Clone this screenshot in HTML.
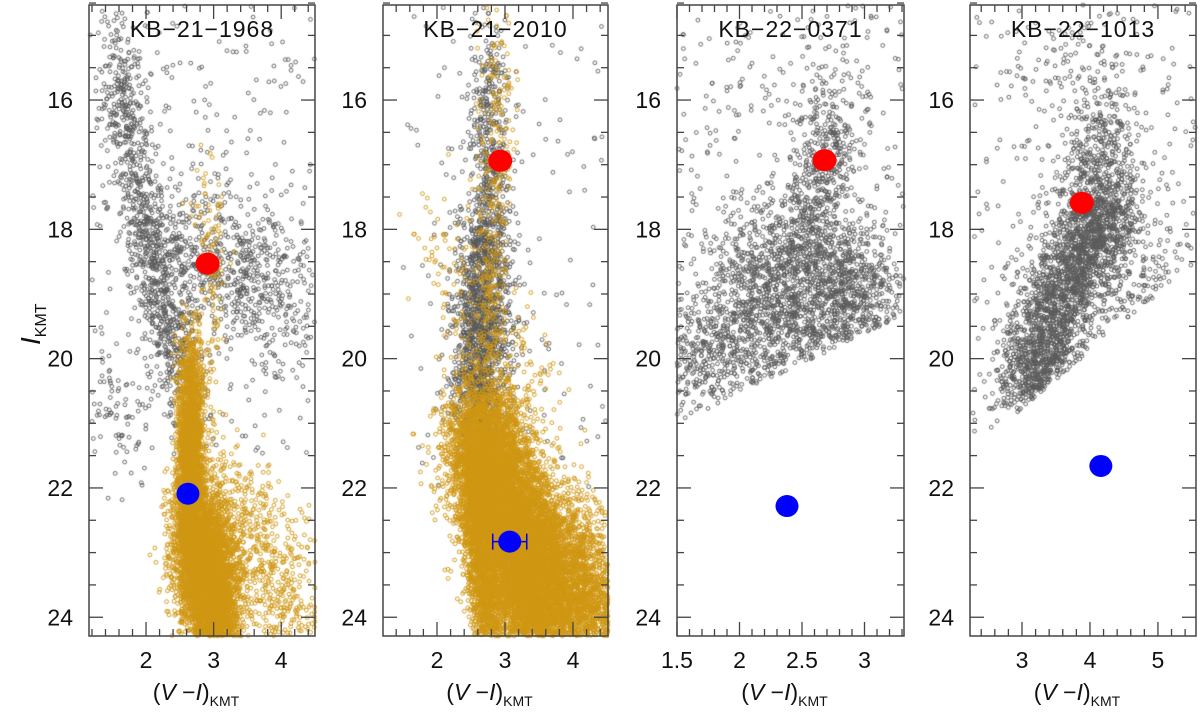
<!DOCTYPE html>
<html><head><meta charset="utf-8"><style>
html,body{margin:0;padding:0;background:#fff;width:1200px;height:715px;overflow:hidden}
#wrap{position:relative;width:1200px;height:715px}
canvas,svg{position:absolute;left:0;top:0}
text{font-family:"Liberation Sans",sans-serif;fill:#111}
</style></head><body>
<div id="wrap">
<canvas id="cv" width="1200" height="715"></canvas>
<svg id="sv" width="1200" height="715"></svg>
</div>
<script>
// ---- data ----
const panelNames = ["KB-21-1968","KB-21-2010","KB-22-0371","KB-22-1013"];
const xMin = [1.156, 1.206, 1.5, 2.235];
const xMax = [4.5, 4.515, 3.316, 5.56];
const xTickMajor = [[2,3,4],[2,3,4],[1.5,2,2.5,3],[3,4,5]];
const xTickLabels = [["2","3","4"],["2","3","4"],["1.5","2","2.5","3"],["3","4","5"]];
const xMinorStep = [0.2,0.2,0.1,0.2];
const yTickMajor = [16,18,20,22,24];
const yTickLabels = ["16","18","20","22","24"];
const yTop = 14.53, yBottom = 24.29;
const sourceColor = [2.91, 2.93, 2.68, 3.88];
const sourceMag = [18.53, 16.94, 16.93, 17.59];
const baseColor = [2.62, 3.07, 2.38, 4.16];
const baseMag = [22.09, 22.83, 22.28, 21.66];
const baseColorErr = [0.03, 0.25, 0.03, 0.03];
// star-cloud components: panel, kind(0 gray,1 orange), x0,y0,x1,y1, sx, sy, n, uniform
const cloudPanel = [0,0,0,0,0, 0,0,0,0,0, 1,1,1, 1,1,1,1,1, 2,2,2,2,2, 3,3,3,3,3];
const cloudKind  = [0,0,0,0,0, 1,1,1,1,1, 0,0,0, 1,1,1,1,1, 0,0,0,0,0, 0,0,0,0,0];
const cloudX0 = [1.55,1.9,2.3,1.2,1.3, 2.9,2.65,2.7,3.2,2.55, 2.75,2.7,1.5, 2.9,2.0,2.6,3.5,2.5, 2.75,2.4,2.7,1.8,1.5, 4.2,4.2,3.5,2.3,4.3];
const cloudY0 = [15.3,17.5,18.3,14.5,20.5, 17.2,20.6,22.5,22.0,19.8, 15.3,18.0,14.5, 15.3,18.0,21.0,22.5,21.5, 16.2,18.0,18.8,19.5,14.5, 16.3,17.5,15.0,14.5,18.5];
const cloudX1 = [1.9,2.5,4.3,4.5,2.0, 3.0,2.65,3.1,4.3,2.9, 2.8,2.6,4.5, 2.75,3.5,3.6,4.5,2.8, 2.6,2.3,3.1,1.6,3.32, 4.2,3.0,4.8,5.5,5.2];
const cloudY1 = [17.5,20.3,19.0,21.5,21.5, 19.8,22.5,24.3,24.3,21.0, 18.0,21.0,22.0, 20.5,21.0,24.3,24.3,24.3, 18.0,20.0,19.3,20.5,21.0, 18.0,20.6,17.0,21.0,19.0];
const cloudSX = [0.15,0.2,0.3,0,0.15, 0.12,0.09,0.2,0.35,0.12, 0.15,0.2,0, 0.15,0.35,0.3,0.35,0.12, 0.15,0.35,0.2,0.2,0, 0.25,0.3,0.5,0,0.4];
const cloudSY = [0.5,0.4,0.6,0,0.4, 0.6,0.6,0.5,0.5,0.4, 0.6,0.5,0, 0.8,0.6,0.5,0.5,0.5, 0.5,0.5,0.5,0.4,0, 0.5,0.4,0.7,0,0.5];
const cloudN = [350,600,700,350,60, 100,2500,5000,700,150, 400,1600,150, 350,200,9000,3000,2000, 450,1500,600,300,400, 350,2400,200,250,250];
const cloudUniform = [0,0,0,1,0, 0,0,0,0,0, 0,0,1, 0,0,0,0,0, 0,0,0,0,1, 0,0,0,1,0];
const cutA = [99, 99, 22.4, 23.44];
const cutB = [0, 0, -0.93, -0.89];

// ---- layout ----
const pxL = [89,383,677,970], pxR = [315,608,904,1196];
const pyT = 5, pyB = 636;
function X(p,v){return pxL[p]+(v-xMin[p])/(xMax[p]-xMin[p])*(pxR[p]-pxL[p]);}
function Y(m){return pyT+(m-yTop)/(yBottom-yTop)*(pyB-pyT);}

// ---- cloud ----
let s=12345;
function rnd(){s|=0;s=s+0x6D2B79F5|0;let t=Math.imul(s^s>>>15,1|s);t=t+Math.imul(t^t>>>7,61|t)^t;return((t^t>>>14)>>>0)/4294967296;}
function gau(){let u=rnd()||1e-9,v=rnd();return Math.sqrt(-2*Math.log(u))*Math.cos(2*Math.PI*v);}
const ctx=document.getElementById('cv').getContext('2d');
ctx.lineWidth=0.9;
for(const kind of [0,1]){
  ctx.strokeStyle = kind? '#cf9612' : '#5a5a5a';
  for(let c=0;c<cloudN.length;c++){
    if(cloudKind[c]!==kind) continue;
    const p=cloudPanel[c];
    for(let i=0;i<cloudN[c];i++){
      let x,y;
      if(cloudUniform[c]){x=cloudX0[c]+rnd()*(cloudX1[c]-cloudX0[c]);y=cloudY0[c]+rnd()*(cloudY1[c]-cloudY0[c]);}
      else{const t=rnd();x=cloudX0[c]+t*(cloudX1[c]-cloudX0[c])+gau()*cloudSX[c];y=cloudY0[c]+t*(cloudY1[c]-cloudY0[c])+gau()*cloudSY[c];}
      if(x<xMin[p]||x>xMax[p]||y<yTop||y>yBottom) continue;
      if(y>cutA[p]+cutB[p]*x) continue;
      ctx.beginPath();ctx.arc(X(p,x),Y(y),1.9,0,Math.PI*2);ctx.stroke();
    }
  }
}

// ---- svg ----
const NS='http://www.w3.org/2000/svg', sv=document.getElementById('sv');
function mk(tag,at,parent){const e=document.createElementNS(NS,tag);for(const k in at)e.setAttribute(k,at[k]);(parent||sv).appendChild(e);return e;}
for(let p=0;p<4;p++){
  const g=mk('g',{});
  
  
  const fr=mk('rect',{x:pxL[p],y:pyT,width:pxR[p]-pxL[p],height:pyB-pyT,fill:'none',stroke:'#444','stroke-width':1.5},g);
  
  
  for(let m=14.5;m<=24.26;m+=0.5){
    const yy=Y(m), maj=Math.abs(m-Math.round(m))<1e-6&&Math.round(m)%2===0, L=maj?14:7;
    mk('line',{x1:pxL[p],x2:pxL[p]+L,y1:yy,y2:yy,stroke:'#444','stroke-width':1.3},g);
    mk('line',{x1:pxR[p],x2:pxR[p]-L,y1:yy,y2:yy,stroke:'#444','stroke-width':1.3},g);
  }
  yTickMajor.forEach((m,i)=>{
    const t=mk('text',{x:pxL[p]-16,y:Y(m)+8,'text-anchor':'end','font-size':23},g);
    t.textContent=yTickLabels[i];
    
    
  });
  const st=xMinorStep[p];
  for(let k=Math.ceil(xMin[p]/st);k*st<=xMax[p];k++){
    const v=k*st, xx=X(p,v);
    const maj=xTickMajor[p].some(q=>Math.abs(q-v)<1e-6), L=maj?14:7;
    mk('line',{x1:xx,x2:xx,y1:pyB,y2:pyB-L,stroke:'#444','stroke-width':1.3},g);
    mk('line',{x1:xx,x2:xx,y1:pyT,y2:pyT+L,stroke:'#444','stroke-width':1.3},g);
  }
  xTickMajor[p].forEach((v,i)=>{
    const t=mk('text',{x:X(p,v),y:668,'text-anchor':'middle','font-size':23},g);
    t.textContent=xTickLabels[p][i];
    
    
  });
  const xt=mk('text',{x:(pxL[p]+pxR[p])/2-6,y:700,'text-anchor':'middle','font-size':23,'font-family':'Liberation Serif'},g);
  xt.innerHTML='(<tspan font-style="italic">V</tspan> −<tspan font-style="italic">I</tspan>)<tspan font-size="14" dy="6">KMT</tspan>';
  
  
  const ti=mk('text',{x:(pxL[p]+pxR[p])/2,y:37,'text-anchor':'middle','font-size':23,'letter-spacing':'1'},g);
  ti.textContent=panelNames[p].replace(/-/g,'−');
  
  
  const bx=X(p,baseColor[p]), by=Y(baseMag[p]);
  const ex0=X(p,baseColor[p]-baseColorErr[p]), ex1=X(p,baseColor[p]+baseColorErr[p]);
  const eb=mk('path',{d:`M${ex0},${by}H${ex1}M${ex0},${by-8}V${by+8}M${ex1},${by-8}V${by+8}`,stroke:'#0000ee','stroke-width':1.5,fill:'none'},g);
  
  
  const bc=mk('ellipse',{cx:bx,cy:by,rx:11.5,ry:11,fill:'#0000ff'},g);
  
  
  const rc=mk('ellipse',{cx:X(p,sourceColor[p]),cy:Y(sourceMag[p]),rx:12,ry:11,fill:'#ff0000'},g);
  
  
}
const yl=mk('text',{x:0,y:0,'font-size':28,'font-family':'Liberation Serif',transform:'translate(40,345) rotate(-90)'});
yl.innerHTML='<tspan font-style="italic">I</tspan><tspan font-size="16" dy="6">KMT</tspan>';


</script>
</body></html>
